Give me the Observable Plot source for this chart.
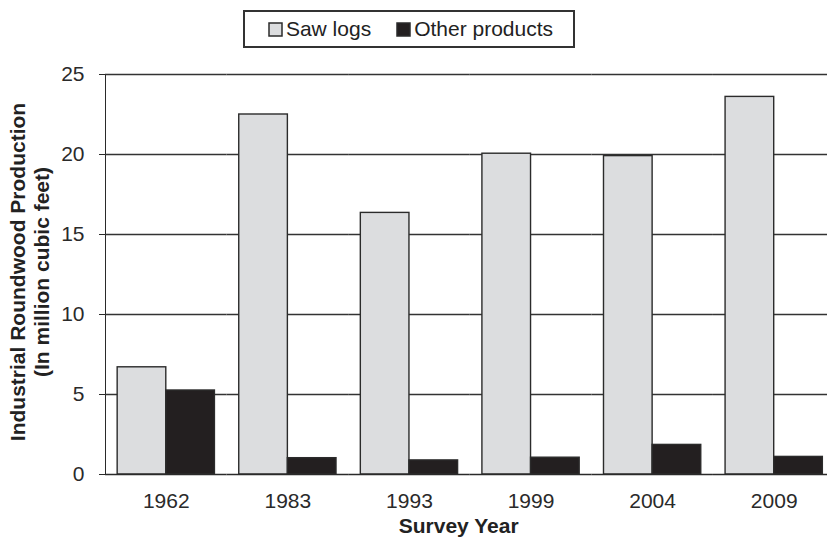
<!DOCTYPE html>
<html>
<head>
<meta charset="utf-8">
<script src="https://cdn.jsdelivr.net/npm/d3@7"></script>
<script src="https://cdn.jsdelivr.net/npm/@observablehq/plot@0.6"></script>
<style>
  html, body { margin: 0; padding: 0; background: white; overflow: hidden; }
  #wrap { position: relative; width: 827px; height: 541px; font-family: "Liberation Sans", Arial, sans-serif; color: #222; }
  #legendrow { position: relative; height: 58px; }
  #legend { position: absolute; left: 243px; top: 10px; width: 328px; height: 34px; border: 2px solid #333;
            display: flex; align-items: center; justify-content: center; box-sizing: content-box; }
  #legend * { font-family: "Liberation Sans", Arial, sans-serif !important; font-size: 21px !important; color: #222; }
  #legend div { margin: 0 !important; min-height: 0 !important; padding-left: 4px; }
  #legend span { margin-right: 0 !important; }
  #legend span + span { margin-left: 26px !important; }
  #legend span svg { margin-right: 4px !important; overflow: visible; }
  #legend span svg rect { stroke: #2b2b2b; stroke-width: 1.5px; }
  #chart svg { display: block; }
  #ytitle { position: absolute; left: -170px; top: 248px; width: 400px; height: 48px; line-height: 24px;
            text-align: center; font-weight: bold; font-size: 21px; transform: rotate(-90deg); transform-origin: 50% 50%; white-space: nowrap; }
  #xtitle { position: absolute; left: 358.7px; top: 515px; width: 200px; line-height: 21px; text-align: center;
            font-weight: bold; font-size: 21px; }
</style>
</head>
<body>
<div id="wrap">
  <div id="legendrow"><div id="legend"></div></div>
  <div id="chart"></div>
  <div id="ytitle">Industrial Roundwood Production<br>(In million cubic feet)</div>
  <div id="xtitle">Survey Year</div>
</div>
<script>
const years = ["1962", "1983", "1993", "1999", "2004", "2009"];
const series = ["Saw logs", "Other products"];
const sawLogs = [6.7, 22.5, 16.35, 20.05, 19.9, 23.6];
const otherProducts = [5.25, 1.02, 0.88, 1.05, 1.85, 1.1];
const yTicks = [0, 5, 10, 15, 20, 25];
const colors = ["#dcdddf", "#231f20"];

const rows = years.flatMap((yr, i) => [
  {year: yr, series: series[0], value: sawLogs[i]},
  {year: yr, series: series[1], value: otherProducts[i]}
]);

const chart = Plot.plot({
  width: 827,
  height: 483,
  marginTop: 16,
  marginBottom: 67,
  marginLeft: 105,
  marginRight: -7.5,
  style: {fontFamily: "'Liberation Sans', Arial, sans-serif", fontSize: "21px", color: "#2a2a2a", background: "white"},
  facet: {data: rows, x: "year"},
  fx: {domain: years, paddingInner: 0, paddingOuter: 0, round: false, label: null, tickSize: 0, tickPadding: 19},
  x: {domain: series, axis: null, paddingInner: 0, paddingOuter: 0.25, round: false},
  y: {domain: [0, 25], ticks: yTicks, tickSize: 6, tickPadding: 15, line: true, label: null},
  color: {domain: series, range: colors},
  marks: [
    Plot.ruleY(yTicks.slice(1), {stroke: "#333", strokeWidth: 1.4}),
    Plot.barY(rows, {x: "series", y: "value", fill: "series", stroke: "#2b2b2b", strokeWidth: 1.4}),
    Plot.ruleY([0], {stroke: "#2a2a2a", strokeWidth: 1.6})
  ]
});
document.getElementById("chart").appendChild(chart);

const legend = Plot.legend({color: {domain: series, range: colors}, legend: "swatches", swatchSize: 13});
document.getElementById("legend").appendChild(legend);
</script>
</body>
</html>
